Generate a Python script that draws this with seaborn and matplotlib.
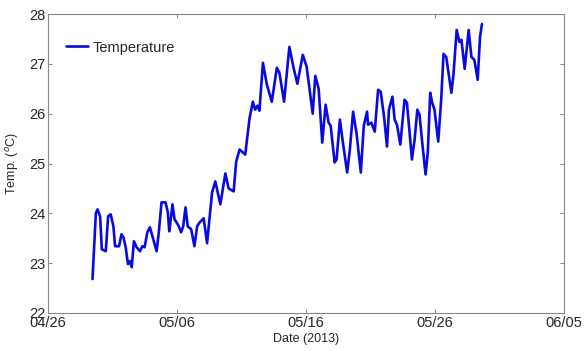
import numpy as np
import pandas as pd
import matplotlib
matplotlib.use("Agg")
import matplotlib.pyplot as plt
import matplotlib.dates as mdates
import seaborn as sns

# dias desde 04/26/2013
days = [3.45, 3.71, 3.84, 4.04, 4.17, 4.48, 4.66, 4.86, 5.07, 5.20, 5.51, 5.69,
        5.85, 6.02, 6.20, 6.36, 6.49, 6.66, 6.87, 7.13, 7.31, 7.49, 7.70, 7.90,
        8.16, 8.42, 8.59, 8.80, 9.11, 9.29, 9.40, 9.52, 9.65, 9.81, 9.96, 10.14,
        10.32, 10.48, 10.66, 10.83, 11.10, 11.35, 11.56, 11.76, 12.07, 12.33,
        12.72, 12.97, 13.36, 13.75, 14.00, 14.39, 14.59, 14.85, 15.29, 15.62,
        15.88, 16.06, 16.24, 16.39, 16.66, 16.97, 17.35, 17.74, 17.94, 18.30,
        18.71, 19.02, 19.33, 19.75, 20.05, 20.52, 20.72, 20.98, 21.26, 21.52,
        21.75, 21.91, 22.22, 22.37, 22.63, 22.83, 23.19, 23.40, 23.65, 23.92,
        24.25, 24.48, 24.73, 24.81, 25.07, 25.33, 25.59, 25.79, 26.05, 26.28,
        26.43, 26.70, 26.87, 27.05, 27.31, 27.64, 27.82, 28.03, 28.21, 28.42,
        28.63, 28.80, 29.01, 29.27, 29.44, 29.63, 29.78, 29.96, 30.25, 30.48,
        30.66, 30.87, 31.07, 31.27, 31.43, 31.68, 31.89, 32.05, 32.30, 32.61,
        32.82, 33.05, 33.31, 33.49, 33.64]

temp = [22.68, 24.00, 24.08, 23.94, 23.28, 23.24, 23.94, 23.98, 23.74, 23.34,
        23.34, 23.58, 23.52, 23.32, 22.98, 23.04, 22.92, 23.44, 23.32, 23.24,
        23.34, 23.32, 23.62, 23.72, 23.48, 23.24, 23.62, 24.22, 24.22, 24.02,
        23.64, 23.88, 24.18, 23.88, 23.82, 23.74, 23.62, 23.74, 24.12, 23.74,
        23.68, 23.34, 23.74, 23.82, 23.90, 23.40, 24.42, 24.64, 24.18, 24.80,
        24.50, 24.44, 25.04, 25.28, 25.18, 25.90, 26.24, 26.08, 26.16, 26.06,
        27.02, 26.58, 26.24, 26.92, 26.82, 26.24, 27.34, 26.94, 26.60, 27.18,
        26.94, 26.00, 26.76, 26.50, 25.42, 26.18, 25.82, 25.76, 25.02, 25.08,
        25.88, 25.48, 24.82, 25.28, 26.04, 25.60, 24.82, 25.76, 26.04, 25.78,
        25.82, 25.64, 26.48, 26.44, 25.94, 25.34, 26.08, 26.34, 25.88, 25.78,
        25.38, 26.28, 26.22, 25.62, 25.08, 25.48, 26.08, 25.98, 25.42, 24.78,
        25.22, 26.42, 26.22, 26.08, 25.44, 26.28, 27.20, 27.14, 26.78, 26.42,
        26.78, 27.68, 27.44, 27.48, 26.90, 27.68, 27.14, 27.08, 26.68, 27.54,
        27.80]

start = pd.Timestamp("2013-04-26")
tick_dates = pd.to_datetime(["2013-04-26", "2013-05-06", "2013-05-16",
                             "2013-05-26", "2013-06-05"])

df = pd.DataFrame({
    "date": start + pd.to_timedelta(days, unit="D"),
    "Temperature": temp,
})

sns.set_style("ticks")
plt.rcParams["font.family"] = ["Liberation Sans", "DejaVu Sans"]

fig = plt.figure(figsize=(5.87, 3.51), dpi=100)
ax = fig.add_axes([48 / 587, 1 - 313 / 351, (564 - 48) / 587, (313 - 14) / 351])

sns.lineplot(data=df, x="date", y="Temperature", color="#0a0ae0", linewidth=1.9,
             label="Temperature", ax=ax)

ax.set_xlim(tick_dates[0], tick_dates[-1])
ax.set_ylim(22, 28)
ax.set_xticks(tick_dates)
ax.xaxis.set_major_formatter(mdates.DateFormatter("%m/%d"))
ax.set_yticks(range(22, 29))

ax.tick_params(direction="in", length=3, width=0.6, color="#777777",
               labelsize=10.5, pad=2, top=True, right=True)
for s in ax.spines.values():
    s.set_visible(True)
    s.set_color("#888888")
    s.set_linewidth(0.8)

ax.set_xlabel("Date (2013)", fontsize=9, labelpad=2)
ax.set_ylabel("Temp. ($^o$C)", fontsize=9, labelpad=6)

# legenda sem moldura, canto superior esquerdo
leg = ax.legend(loc="upper left", frameon=False, fontsize=10.5, handlelength=1.5,
                handletextpad=0.3, bbox_to_anchor=(0.01, 0.955))

fig.savefig("out.png", dpi=100)
plt.close()
